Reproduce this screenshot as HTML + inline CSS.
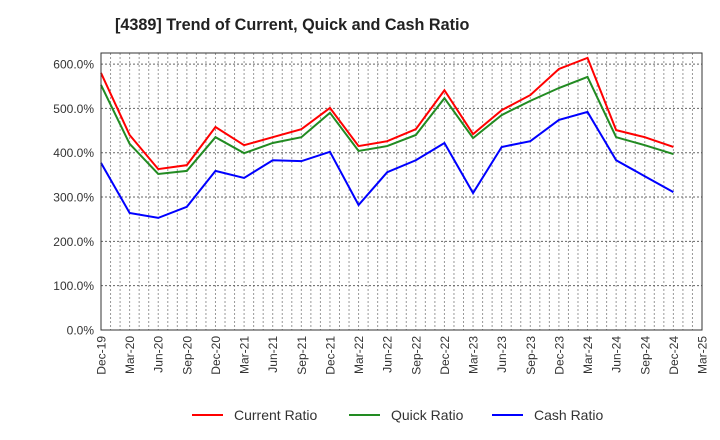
<!DOCTYPE html>
<html><head><meta charset="utf-8"><style>
body{margin:0;background:#fff;}
svg{display:block;font-family:"Liberation Sans",Arial,sans-serif;}
</style></head><body>
<svg id="chart" width="720" height="440" viewBox="0 0 720 440">
<text x="115" y="30" font-size="16.2" font-weight="bold" fill="#222">[4389]  Trend of Current, Quick and Cash Ratio</text>
<g id="grid"></g>
<g id="yaxis"></g>
<g id="xaxis"></g>
<g id="series"></g>
<rect x="101" y="53" width="601" height="277" fill="none" stroke="#333" stroke-width="1"/>
<g id="legend"></g>
</svg>
<script>
const xLabels=["Dec-19","Mar-20","Jun-20","Sep-20","Dec-20","Mar-21","Jun-21","Sep-21","Dec-21","Mar-22","Jun-22","Sep-22","Dec-22","Mar-23","Jun-23","Sep-23","Dec-23","Mar-24","Jun-24","Sep-24","Dec-24","Mar-25"];
const yTicks=[0,100,200,300,400,500,600];
const currentRatio=[580,440,363,372,458,417,435,453,501,415,426,453,541,442,496,530,589,614,451,435,413];
const quickRatio=[553,420,352,359,435,399,422,435,490,404,415,440,523,433,485,517,546,571,435,417,397];
const cashRatio=[377,264,253,278,359,343,383,381,402,282,356,383,422,309,413,426,474,492,383,347,311];
const X0=101,X1=702,Y0=330,Y1=53,YMAX=625;
const NS="http://www.w3.org/2000/svg";
const nq=xLabels.length-1;
function xs(i){return X0+(X1-X0)*i/nq;}
function ys(v){return Y0-(Y0-Y1)*v/YMAX;}
function mk(t,a,p){const e=document.createElementNS(NS,t);for(const k in a)e.setAttribute(k,a[k]);p.appendChild(e);return e;}
const grid=document.getElementById('grid');
for(let m=1;m<nq*3;m++){const x=X0+(X1-X0)*m/(nq*3);
const l=mk('line',{x1:x,x2:x,y1:Y1,y2:Y0,stroke:'#999','stroke-width':1,'stroke-dasharray':'2,2'},grid);
}
const ya=document.getElementById('yaxis');
yTicks.forEach(v=>{const y=ys(v);
if(v>0){const l=mk('line',{x1:X0,x2:X1,y1:y,y2:y,stroke:'#666','stroke-width':1,'stroke-dasharray':'2,2'},grid);
}
const t=mk('text',{x:94,y:y+4.5,'text-anchor':'end','font-size':12,fill:'#333'},ya);t.textContent=v.toFixed(1)+'%';
});
const xa=document.getElementById('xaxis');
xLabels.forEach((s,i)=>{const x=xs(i);
const t=mk('text',{x:0,y:0,'text-anchor':'end','font-size':12,fill:'#333',transform:`translate(${x+4.5},336) rotate(-90)`},xa);t.textContent=s;
});
const ser=document.getElementById('series');
[[currentRatio,'#ff0000','current-ratio-line'],[quickRatio,'#228b22','quick-ratio-line'],[cashRatio,'#0000ff','cash-ratio-line']].forEach(([d,c,n])=>{
const p=mk('polyline',{points:d.map((v,i)=>xs(i)+','+ys(v)).join(' '),fill:'none',stroke:c,'stroke-width':2},ser);
});
const lg=document.getElementById('legend');
[['Current Ratio','#ff0000',192],['Quick Ratio','#228b22',349],['Cash Ratio','#0000ff',492]].forEach(([s,c,x])=>{
const g=mk('g',{},lg);
mk('line',{x1:x,x2:x+31,y1:415,y2:415,stroke:c,'stroke-width':2},g);
const t=mk('text',{x:x+42,y:420,'font-size':14,fill:'#333'},g);t.textContent=s;});
</script>
</body></html>
